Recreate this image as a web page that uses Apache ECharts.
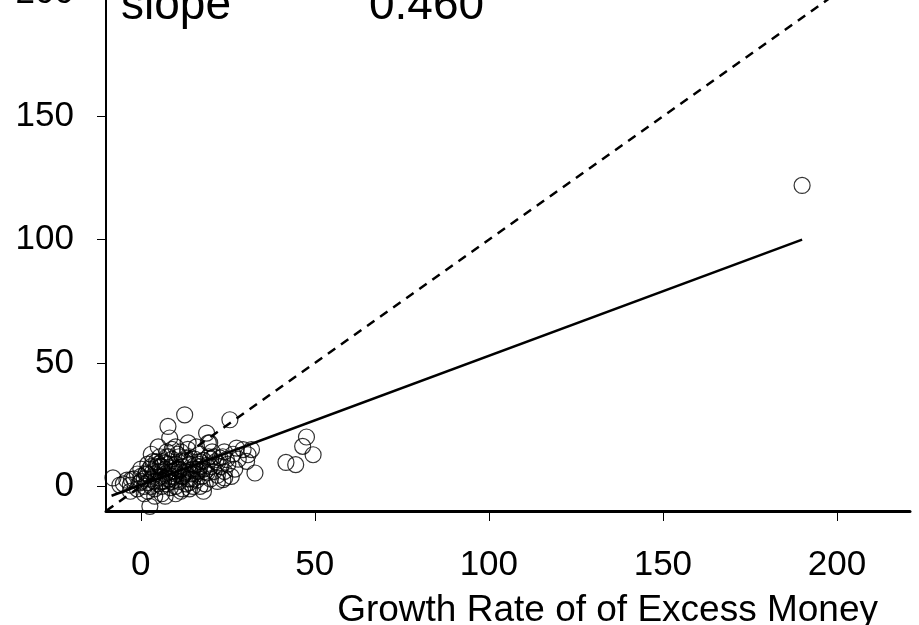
<!DOCTYPE html>
<html>
<head>
<meta charset="utf-8">
<script src="https://cdn.jsdelivr.net/npm/echarts@6/dist/echarts.min.js"></script>
<style>
  html, body { margin: 0; padding: 0; background: #fff; }
  #chart { width: 919px; height: 625px; }
</style>
</head>
<body>
<div id="chart"></div>
<script>
// growth rate of excess money (x) vs inflation (y)
const excessMoney = [
  190, 47.6, 46.5, 49.5, 41.7, 44.5, 32.8, 30.4, 30.8, 31.8, 27.5, 29.4, 25.6, 12.6, 7.8, 8.3,
  18.9, 19.4, 13.6, 19.8, 24.1, 23.6, 17, 24.6, 22.7, -8, -2.7, 2.6, -0.3,
  -5, -4, -3, -2, -1, 0, 0, 1, 1, 1.5, 2, 2, 2.5, 3, 3, 3.5, 4, 4, 4, 4.5, 5, 5, 5, 5.5,
  6, 6, 6, 6.5, 7, 7, 7.5, 7.5, 8, 8, 8.5, 8.5, 9, 9, 9.5, 9.5, 10, 10, 10, 10.5, 11, 11,
  11.5, 12, 12, 12.5, 13, 13, 13.5, 14, 14, 14.5, 15, 15, 15.5, 16, 16, 16.5, 17, 17.5,
  18, 18, 18.5, 19, 19.5, 20, 20, 20.5, 21, 21.5, 22, 22, 23, 23.5, 24, 25, 26, 26.5, 27, 28,
  3, 5, 6, 9, 11, 14, 16, 12, 7, 10, 14, 18, 4, 1, -1, 2, 0, -6, -3, 6, 8, 10, 13, 15, 17, 21, 24,
  2, 3.5, 5.5, 7, 8.5, 9.5, 11, 12.5, 14, 15.5, 17, 18.5, 20, 6, 8, 10, 12, 14, 16, 4.5, 7.5,
  10.5, 13.5, 16.5, 19, 22, 1.5, 3, 5, 11.5
];
const inflation = [
  122, 20, 16.2, 12.8, 9.7, 8.8, 5.4, 10.1, 12.8, 14.9, 15.5, 14.9, 27, 29, 24.3, 19.6,
  21.6, 17.6, 17.6, 17.6, 3.4, 2.7, 0, 10.8, 11.5, 3.4, 2.7, -8.1, 1.4,
  1, 2.5, 0.5, 3, -1, 2, 4, 0, 3, 5, -2, 1.5, 7, 0, 3, 10, -1, 2, 5, 8, 1, 3.5, 6, 12,
  -3, 0, 4, 2, 7, 5, 1, 14, 3, 9, -0.5, 6, 2, 11, 4, 7.5, 0, 5, 9, 13, 2, 6.5,
  -2, 4, 8, 10, 1, 6, 15, 3, 9, 5, 0, 7, 11, 2.5, 5, 9, 13, 4,
  7, 10.5, 1, 5.5, 12, 3, 8, 14, 6, 10, 2, 4.5, 8, 12, 6, 9, 4, 13, 7, 11,
  13, 16, 10, 15, 12, 12, 16, -1, -4, -3, -1, -2, -4, -3, 5, 9, 7, 0.5, -2, 8, 12, 16, 10.5, 3, 8, 12, 14,
  5, 6, 8, 9.5, 4, 6, 7, 5.5, 6.5, 8.5, 10, 6, 11, 2, 3, 2.5, 4, 1.5, 7, 10, 12,
  7, 3, 6, 8.5, 9.5, 5.5, 8, 9, 14
];
// fitted line and 45-degree line endpoints
const fitX = [-8.4, 190];
const fitY = [-3.8, 100];
const diagX = [-10, 200];
const diagY = [-10, 200];
const xTicks = [0, 50, 100, 150, 200];
const yTicks = [0, 50, 100, 150, 200];

const chart = echarts.init(document.getElementById('chart'));
const font = 'Liberation Sans, Arial, sans-serif';

chart.setOption({
  backgroundColor: '#fff',
  animation: false,
  textStyle: { fontFamily: font },
  title: {
    text: 'Growth Rate of of Excess Money',
    right: 36,
    top: 587,
    textStyle: { fontFamily: font, fontSize: 37, fontWeight: 'normal', color: '#000' }
  },
  graphic: [
    {
      type: 'text', left: 121, top: -17,
      style: { text: 'slope', font: '46px ' + font, fill: '#000' }
    },
    {
      type: 'text', left: 369, top: -17,
      style: { text: '0.460', font: '46px ' + font, fill: '#000' }
    }
  ],
  grid: { left: 106, right: 9, top: -7, bottom: 114, outerBoundsMode: 'none' },
  xAxis: {
    type: 'value',
    min: -10,
    max: 221,
    splitLine: { show: false },
    axisLine: { onZero: false, lineStyle: { color: '#000', width: 3 } },
    axisTick: { show: true, length: 10, customValues: xTicks, lineStyle: { color: '#000', width: 1 } },
    axisLabel: { customValues: xTicks, margin: 37, fontSize: 35, color: '#000', fontFamily: font }
  },
  yAxis: {
    type: 'value',
    min: -10,
    max: 200,
    splitLine: { show: false },
    axisLine: { show: true, onZero: false, lineStyle: { color: '#000', width: 2 } },
    axisTick: { show: true, length: 9, customValues: yTicks, lineStyle: { color: '#000', width: 1 } },
    axisLabel: { customValues: yTicks, margin: 32, fontSize: 35, color: '#000', fontFamily: font }
  },
  series: [
    {
      type: 'scatter',
      data: excessMoney.map((x, i) => [x, inflation[i]]),
      symbol: 'circle',
      symbolSize: 16,
      itemStyle: { color: 'rgba(0,0,0,0)', borderColor: '#000', borderWidth: 1.2 }
    },
    {
      type: 'line',
      data: fitX.map((x, i) => [x, fitY[i]]),
      symbol: 'none',
      lineStyle: { color: '#000', width: 2.5 }
    },
    {
      type: 'line',
      data: diagX.map((x, i) => [x, diagY[i]]),
      symbol: 'none',
      lineStyle: { color: '#000', width: 2.5, type: [9, 7] }
    }
  ]
});
</script>
</body>
</html>
